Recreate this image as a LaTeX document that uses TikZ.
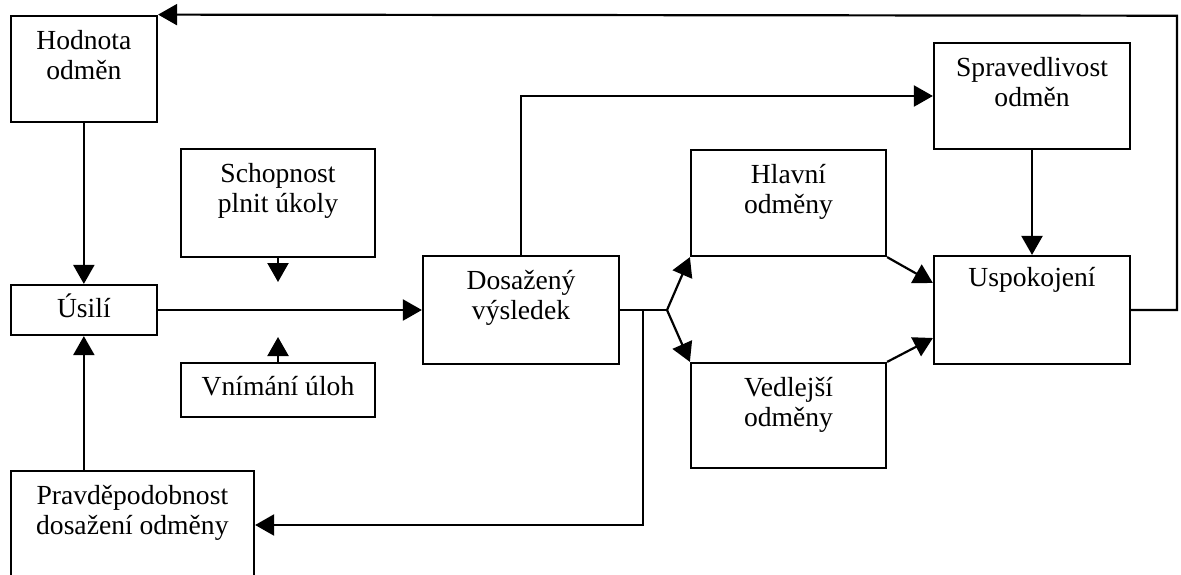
\documentclass[tikz,border=0pt]{standalone}
\usepackage{fontspec}
\setmainfont{Liberation Serif}
\usetikzlibrary{arrows.meta,fit}
\begin{document}
\begin{tikzpicture}[x=0.5pt,y=-0.5pt,
  box/.style={draw,line width=1.1pt,inner sep=0pt},
  lbl/.style={anchor=base,align=center,font=\fontsize{13.8}{15}\selectfont,inner sep=0pt},
  arr/.style={line width=1.1pt,-{Triangle[length=9.5pt,width=10.5pt]}},
  ln/.style={line width=1.1pt}]
\useasboundingbox (0,0) rectangle (1181,574);
\clip (0,0) rectangle (1181,574);
% boxes
\node[box,fit={(10.7,15.7) (157,122)}] (hod) {};
\node[box,fit={(10.7,285) (157,335)}] (usi) {};
\node[box,fit={(181,149) (375,257)}] (sch) {};
\node[box,fit={(181,363) (375,417)}] (vni) {};
\node[box,fit={(423,256) (619,364)}] (dos) {};
\node[box,fit={(691,150) (886,256)}] (hla) {};
\node[box,fit={(691,363) (886,468)}] (ved) {};
\node[box,fit={(934,43) (1130,149)}] (spr) {};
\node[box,fit={(934,256) (1130,364)}] (usp) {};
\node[box,fit={(10.7,470.7) (254,620)}] (pra) {};
% texts (base = baseline of the last line)
\node[lbl] (hodT) at ([yshift=-32.5pt]hod.north) {Hodnota\\odměn};
\node[lbl] (usiT) at ([yshift=-17pt]usi.north) {Úsilí};
\node[lbl] (schT) at ([yshift=-32.5pt]sch.north) {Schopnost\\plnit úkoly};
\node[lbl] (vniT) at ([yshift=-17pt]vni.north) {Vnímání úloh};
\node[lbl] (dosT) at ([yshift=-32.5pt]dos.north) {Dosažený\\výsledek};
\node[lbl] (hlaT) at ([yshift=-32.5pt]hla.north) {Hlavní\\odměny};
\node[lbl] (vedT) at ([yshift=-32.5pt]ved.north) {Vedlejší\\odměny};
\node[lbl] (sprT) at ([yshift=-32.5pt]spr.north) {Spravedlivost\\odměn};
\node[lbl] (uspT) at ([yshift=-16pt]usp.north) {Uspokojení};
\node[lbl] (praT) at ([yshift=-32.5pt]pra.north) {Pravděpodobnost\\dosažení odměny};
% coordinates
\coordinate (fb) at (1177,15.7);
\coordinate (schTip) at (278,282);
\coordinate (vniTip) at (278,337);
\coordinate (jn) at (667,310);
\coordinate (br) at (643,310);
\coordinate (pb) at (643,525);
% connectors
\draw[arr] (usp.east) -| (fb) -- (hod.north east);
\draw[arr] (hod.south) -- (usi.north);
\draw[arr] (pra.north -| usi.south) -- (usi.south);
\draw[arr] (usi.east) -- (dos.west);
\draw[arr] (sch.south) -- (schTip);
\draw[arr] (vni.north) -- (vniTip);
\draw[arr] (dos.north) |- (spr.west);
\draw[ln] (dos.east) -- (jn);
\draw[arr] (jn) -- (hla.south west);
\draw[arr] (jn) -- (ved.north west);
\draw[arr] (br) -- (pb) -- (pb -| pra.east);
\draw[arr] (hla.south east) -- ([yshift=13.5pt]usp.west);
\draw[arr] (ved.north east) -- ([yshift=-14pt]usp.west);
\draw[arr] (spr.south) -- (usp.north);
\end{tikzpicture}
\end{document}
